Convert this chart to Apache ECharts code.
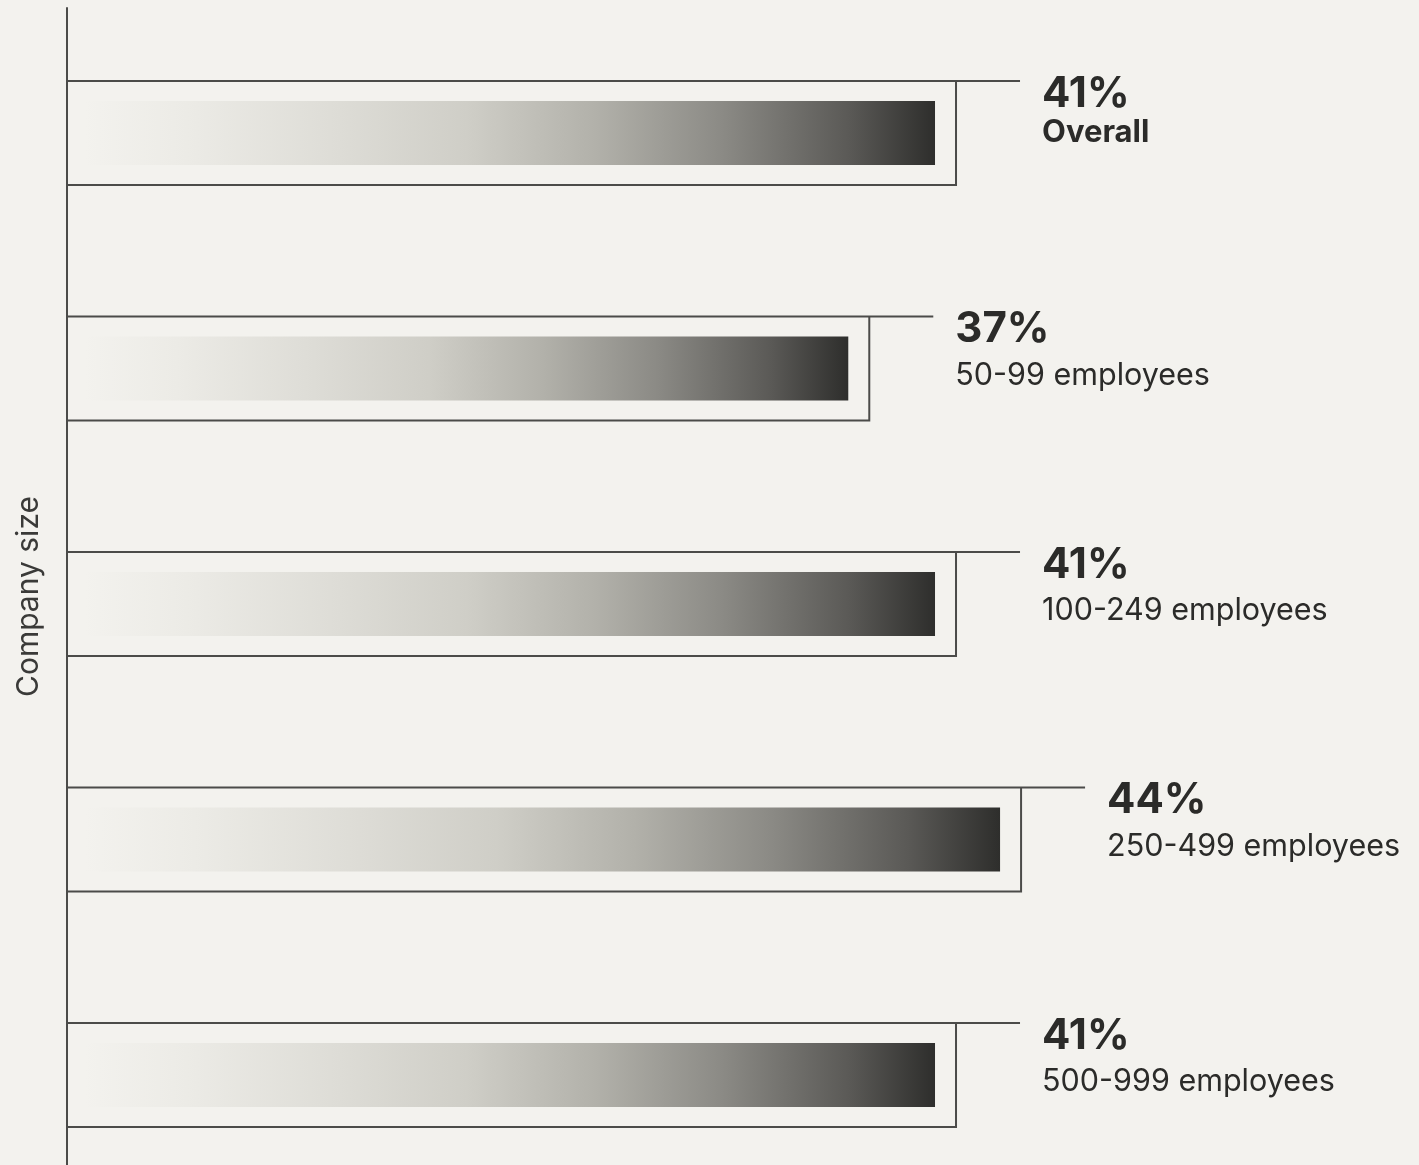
<!DOCTYPE html>
<html>
<head>
<meta charset="utf-8">
<style>
  html, body { margin: 0; padding: 0; background: #f3f2ee; }
  #chart { width: 1419px; height: 1165px; }
</style>
<script src="https://cdn.jsdelivr.net/npm/echarts@6/dist/echarts.min.js"></script>
</head>
<body>
<div id="chart"></div>
<script>
// Share of companies, by company size
const categories = ['Overall', '50-99 employees', '100-249 employees', '250-499 employees', '500-999 employees'];
const shares = [41, 37, 41, 44, 41];
const valueLabels = ['41%', '37%', '41%', '44%', '41%'];
const axisTitle = 'Company size';

const ink = '#2b2b29';
const frameColor = '#4b4b49';
const fontFamily = 'Inter, "Liberation Sans", sans-serif';

const barGradient = {
  type: 'linear', x: 0, y: 0, x2: 1, y2: 0,
  colorStops: [
    { offset: 0.00, color: 'rgba(243,242,238,1)' },
    { offset: 0.12, color: '#ecebe6' },
    { offset: 0.30, color: '#dddcd6' },
    { offset: 0.45, color: '#cfcec7' },
    { offset: 0.60, color: '#b2b1aa' },
    { offset: 0.75, color: '#8b8a85' },
    { offset: 0.90, color: '#5a5956' },
    { offset: 1.00, color: '#2e2e2c' }
  ]
};

const seriesData = shares.map((v, i) => [v, i]);

function renderBar(params, api) {
  const idx = api.value(1);
  const end = api.coord([api.value(0), idx]);
  const start = api.coord([0, idx]);
  const x0 = start[0], x1 = end[0], cy = end[1];
  const top = cy - 52, bottom = cy + 52;
  const isOverall = idx === 0;
  return {
    type: 'group',
    children: [
      {
        type: 'rect',
        shape: { x: x0 + 18, y: cy - 32, width: (x1 - 21) - (x0 + 18), height: 64 },
        style: { fill: barGradient }
      },
      {
        type: 'polyline',
        shape: { points: [[x0, top], [x1 + 64, top]] },
        style: { stroke: frameColor, lineWidth: 2, fill: null }
      },
      {
        type: 'polyline',
        shape: { points: [[x1, top], [x1, bottom], [x0, bottom]] },
        style: { stroke: frameColor, lineWidth: 2, fill: null }
      },
      {
        type: 'text',
        style: {
          x: x1 + 86, y: cy - 39,
          text: valueLabels[idx],
          font: 'bold 42px ' + fontFamily,
          fill: ink, align: 'left', verticalAlign: 'middle'
        }
      },
      {
        type: 'text',
        style: {
          x: x1 + 86, y: isOverall ? cy : cy + 7,
          text: categories[idx],
          font: (isOverall ? 'bold 31px ' : '30.5px ') + fontFamily,
          fill: ink, align: 'left', verticalAlign: 'middle'
        }
      }
    ]
  };
}

const chart = echarts.init(document.getElementById('chart'), null, { renderer: 'canvas' });
chart.setOption({
  backgroundColor: '#f3f2ee',
  animation: false,
  grid: { left: 67, top: 8, width: 1301, height: 1157 },
  xAxis: {
    type: 'value', min: 0, max: 60,
    show: false
  },
  yAxis: {
    type: 'value', inverse: true, min: -0.5308, max: 4.382,
    name: axisTitle,
    nameLocation: 'middle',
    nameGap: 23,
    nameTextStyle: { fontFamily: fontFamily, fontSize: 30, color: '#3a3a38', padding: [0, 20, 0, 0] },
    axisLine: { show: true, lineStyle: { color: frameColor, width: 2 } },
    axisTick: { show: false },
    axisLabel: { show: false },
    splitLine: { show: false }
  },
  series: [{
    type: 'custom',
    clip: false,
    renderItem: renderBar,
    encode: { x: 0, y: 1 },
    data: seriesData
  }]
});
</script>
</body>
</html>
